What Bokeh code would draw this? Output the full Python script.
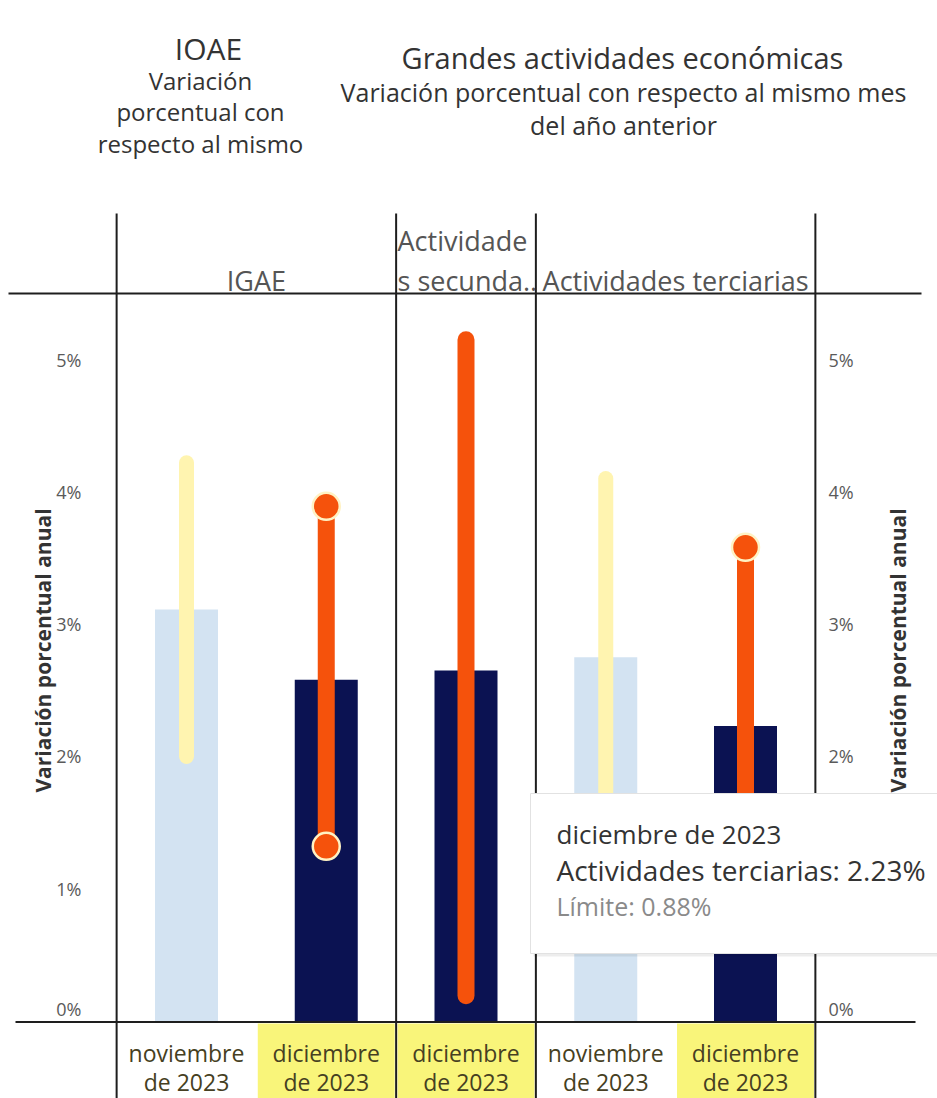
import math
from bokeh.plotting import figure
from bokeh.models import Range1d, ColumnDataSource
from bokeh.core.properties import value
from bokeh.embed import file_html
from bokeh.resources import INLINE

# ---------------- data ----------------
categories = ["IGAE", "Actividades secundarias", "Actividades terciarias"]
col_category = ["IGAE", "IGAE", "Actividades secundarias",
                "Actividades terciarias", "Actividades terciarias"]
col_month = ["noviembre de 2023", "diciembre de 2023", "diciembre de 2023",
             "noviembre de 2023", "diciembre de 2023"]
bar_values = [3.11, 2.58, 2.65, 2.75, 2.23]
limit_low = [2.00, 1.32, 0.19, 1.35, 0.88]
limit_high = [4.22, 3.89, 5.15, 4.10, 3.58]
show_markers = [False, True, False, False, True]
y_ticks = [0, 1, 2, 3, 4, 5]
y_tick_labels = ["0%", "1%", "2%", "3%", "4%", "5%"]
header_labels = ["IGAE", "Actividade\ns secunda..", "Actividades terciarias"]

# ---------------- layout helpers (pixel -> data) ----------------
W, H = 937, 1098
ORIGIN = 0
PX_COL = 139.75     # px per column
PX_PCT = 132.3      # px per percentage point
COL0_PX = 186.0     # screen x of first column centre
ZERO_PX = 1020.5    # screen y of 0 %
x_start = (ORIGIN - COL0_PX) / PX_COL
x_end = x_start + W / PX_COL
y_end = (ZERO_PX - ORIGIN) / PX_PCT
y_start = y_end - H / PX_PCT


def X(px):
    return x_start + (px - ORIGIN) / PX_COL


def Y(py):
    return y_end - (py - ORIGIN) / PX_PCT


FONT = value("Open Sans")
LINE = "#1e1e1e"

p = figure(width=W, height=H, x_range=Range1d(x_start, x_end),
           y_range=Range1d(y_start, y_end), x_axis_type=None, y_axis_type=None,
           toolbar_location=None, output_backend="svg", min_border=0,
           outline_line_color=None, background_fill_color="white")
p.grid.visible = False

xs = list(range(len(bar_values)))
is_dic = [m.startswith("diciembre") for m in col_month]
bar_colors = ["#0b1252" if d else "#d3e3f2" for d in is_dic]
line_colors = ["#f5520c" if d else "#fff4b0" for d in is_dic]
line_widths = [17 if d else 15 for d in is_dic]

# group boundaries derived from category changes
bounds = [-0.5]
for i in range(1, len(col_category)):
    if col_category[i] != col_category[i - 1]:
        bounds.append(i - 0.5)
bounds.append(len(col_category) - 0.5)
group_centers = [(bounds[i] + bounds[i + 1]) / 2 for i in range(len(bounds) - 1)]

# ---------------- bottom header cells ----------------
cell_x = [x for x, d in zip(xs, is_dic) if d]
p.rect(x=cell_x, y=(Y(1023) + Y(1100)) / 2, width=0.98,
       height=Y(1023) - Y(1100), fill_color="#f9f57a", line_color=None)

# ---------------- bars ----------------
src = ColumnDataSource(dict(x=xs, top=bar_values, lo=limit_low, hi=limit_high,
                            bc=bar_colors, lc=line_colors, lw=line_widths))
p.vbar(x="x", top="top", bottom=0, width=63 / PX_COL, fill_color="bc",
       line_color=None, source=src)
p.segment(x0="x", y0="lo", x1="x", y1="hi", line_color="lc", line_width="lw",
          line_cap="round", source=src)

mx = [x for x, s in zip(xs, show_markers) if s]
mhi = [h for h, s in zip(limit_high, show_markers) if s]
mlo = [l for l, s in zip(limit_low, show_markers) if s]
p.scatter(x=mx + mx, y=mhi + mlo, size=27, fill_color="#f5520c",
          line_color="#fff2c4", line_width=2.5)

# ---------------- grid lines ----------------
p.segment(x0=X(8), y0=Y(293), x1=X(921), y1=Y(293), line_color=LINE, line_width=2)
p.segment(x0=X(15), y0=Y(1021.5), x1=X(915), y1=Y(1021.5), line_color=LINE, line_width=2)
p.segment(x0=bounds, y0=[Y(213)] * len(bounds), x1=bounds,
          y1=[Y(1100)] * len(bounds), line_color=LINE, line_width=2)

# ---------------- headers ----------------
HDR = "27px"
p.text(x=[group_centers[0]], y=[Y(280)], text=[header_labels[0]],
       text_font=FONT, text_font_size=HDR, text_color="#555555",
       text_align="center", text_baseline="middle")
p.text(x=[X(397), X(397)], y=[Y(240), Y(280)],
       text=header_labels[1].split("\n"), text_font=FONT,
       text_font_size=HDR, text_color="#555555", text_align="left",
       text_baseline="middle")
p.text(x=[group_centers[2]], y=[Y(280)], text=[header_labels[2]],
       text_font=FONT, text_font_size=HDR, text_color="#555555",
       text_align="center", text_baseline="middle")

# ---------------- bottom labels ----------------
BOT = "23px"
p.text(x=xs, y=[Y(1052)] * len(xs), text=[m.split(" ", 1)[0] for m in col_month],
       text_font=FONT, text_font_size=BOT, text_color="#463f22",
       text_align="center", text_baseline="middle")
p.text(x=xs, y=[Y(1081)] * len(xs), text=[m.split(" ", 1)[1] for m in col_month],
       text_font=FONT, text_font_size=BOT, text_color="#463f22",
       text_align="center", text_baseline="middle")

# ---------------- y tick labels ----------------
TICK = "18px"
for side_x, align in ((X(81), "right"), (X(828), "left")):
    p.text(x=[side_x] * (len(y_ticks) - 1), y=y_ticks[1:], text=y_tick_labels[1:],
           text_font=FONT, text_font_size=TICK, text_color="#5a5a5a",
           text_align=align, text_baseline="middle")
    p.text(x=[side_x], y=[y_ticks[0]], y_offset=-12, text=[y_tick_labels[0]],
           text_font=FONT, text_font_size=TICK, text_color="#5a5a5a",
           text_align=align, text_baseline="middle")

# axis titles
for ax in (X(42), X(897)):
    p.text(x=[ax], y=[Y(650)], text=["Variación porcentual anual"], angle=math.pi / 2,
           text_font=FONT, text_font_size="21px", text_font_style="bold",
           text_color="#333333", text_align="center", text_baseline="middle")

# ---------------- titles ----------------
p.text(x=[X(208)], y=[Y(48)], text=["IOAE"], text_font=FONT,
       text_font_size="30px", text_color="#333333", text_align="center",
       text_baseline="middle")
p.text(x=[X(200)] * 3, y=[Y(80), Y(111), Y(143)],
       text=["Variación", "porcentual con", "respecto al mismo"], text_font=FONT,
       text_font_size="24px", text_color="#333333", text_align="center",
       text_baseline="middle")
p.text(x=[X(622)], y=[Y(57)], text=["Grandes actividades económicas"],
       text_font=FONT, text_font_size="29px", text_color="#333333",
       text_align="center", text_baseline="middle")
p.text(x=[X(623)] * 2, y=[Y(91), Y(124)],
       text=["Variación porcentual con respecto al mismo mes", "del año anterior"],
       text_font=FONT, text_font_size="25px", text_color="#333333",
       text_align="center", text_baseline="middle")

# ---------------- tooltip ----------------
tx0, tx1, ty0, ty1 = X(530), X(945), Y(793), Y(953)
p.quad(left=tx0 + 3 / PX_COL, right=tx1 + 3 / PX_COL, top=ty0 - 3 / PX_PCT,
       bottom=ty1 - 3 / PX_PCT, fill_color="#000000", fill_alpha=0.07, line_color=None)
p.quad(left=tx0, right=tx1, top=ty0, bottom=ty1, fill_color="white",
       line_color="#e2e2e2", line_width=1)
k = 4
p.text(x=[X(556)], y=[Y(833)], text=[col_month[k]],
       text_font=FONT, text_font_size="26px", text_color="#333333",
       text_align="left", text_baseline="middle")
p.text(x=[X(556)], y=[Y(869)], text=[f"{col_category[k]}: {bar_values[k]:.2f}%"],
       text_font=FONT, text_font_size="28px", text_color="#333333",
       text_align="left", text_baseline="middle")
p.text(x=[X(556)], y=[Y(905)], text=[f"Límite: {limit_low[k]:.2f}%"],
       text_font=FONT, text_font_size="25px", text_color="#8a8a8a",
       text_align="left", text_baseline="middle")

open("out.html", "w").write(file_html(p, INLINE))
